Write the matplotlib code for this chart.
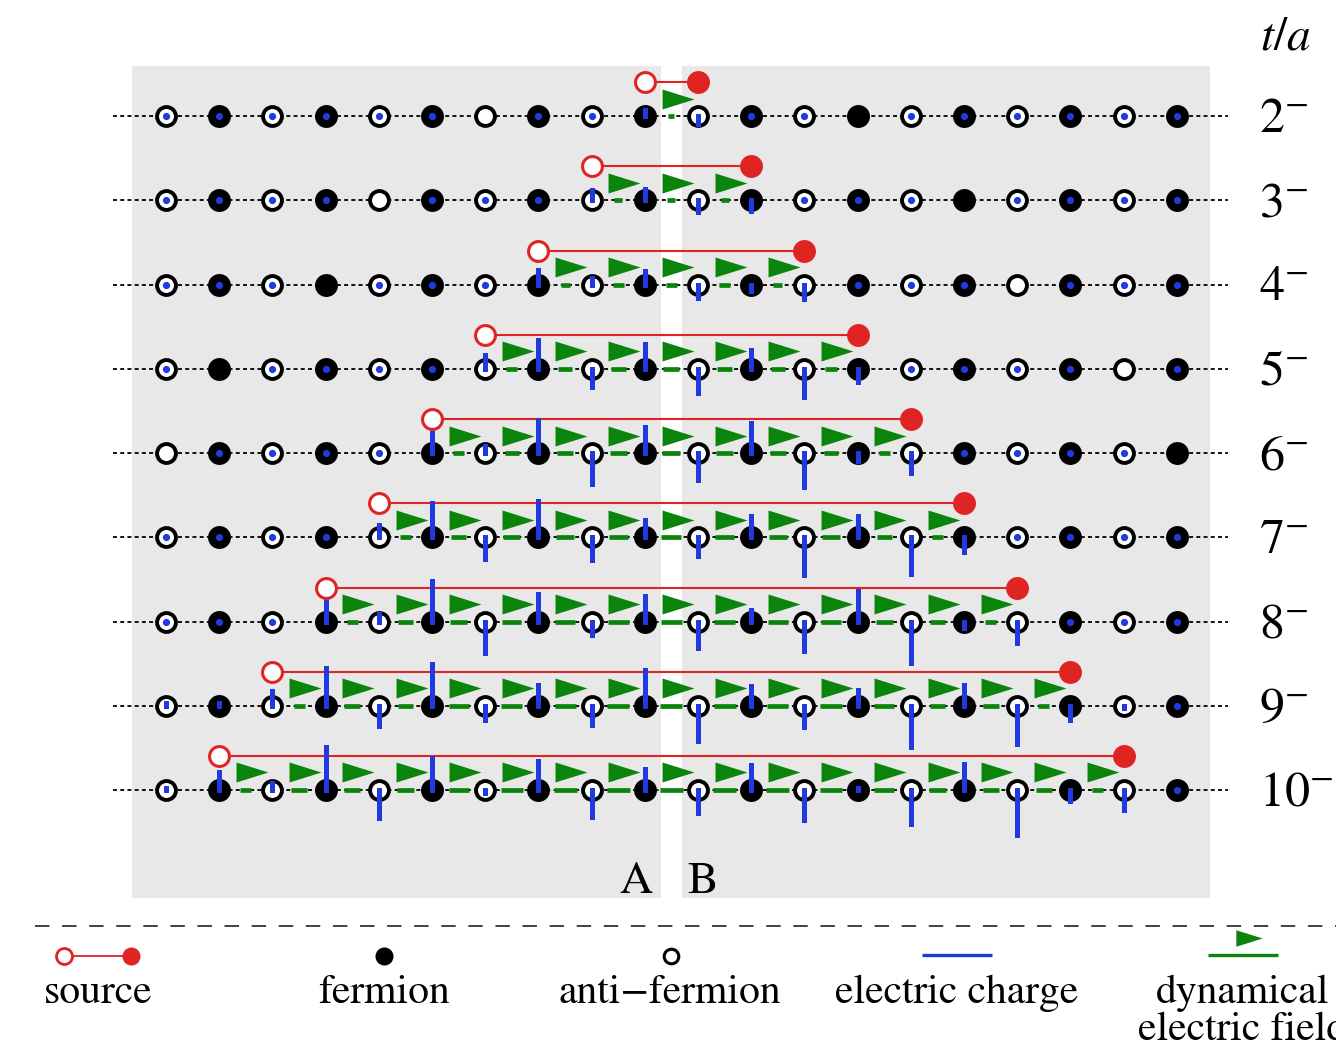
import numpy as np
import matplotlib.pyplot as plt
from matplotlib.path import Path
from matplotlib.patches import Rectangle

plt.rcParams['font.family'] = 'STIXGeneral'
plt.rcParams['mathtext.fontset'] = 'stix'

N = np.nan

# time slices and source positions (site index of anti-source / source)
times = [2, 3, 4, 5, 6, 7, 8, 9, 10]
src_open = [9, 8, 7, 6, 5, 4, 3, 2, 1]
src_full = [10, 11, 12, 13, 14, 15, 16, 17, 18]

# electric charge on the 20 sites (nan = no charge, 0 = tiny)
q2 = [0, 0, 0, 0, 0, 0, N, 0, 0, .09, -.10, 0, 0, N, 0, 0, 0, 0, 0, 0]
q3 = [0, 0, 0, 0, N, 0, 0, 0, .13, .14, -.14, -.13, 0, 0, 0, N, 0, 0, 0, 0]
q4 = [0, 0, 0, N, 0, 0, 0, .17, .09, .16, -.16, -.09, -.17, 0, 0, 0, N, 0, 0, 0]
q5 = [0, N, 0, 0, 0, 0, .16, .31, -.21, .27, -.27, .21, -.31, -.16, 0, 0, 0, 0, N, 0]
q6 = [N, 0, 0, 0, 0, .23, .10, .36, -.33, .28, -.29, .33, -.36, -.10, -.22, 0, 0, 0, 0, N]
q7 = [0, 0, 0, 0, .15, .37, -.24, .39, -.25, .20, -.21, .24, -.40, .24, -.39, -.17, 0, 0, 0, 0]
q8 = [0, 0, 0, .23, .10, .43, -.34, .30, -.16, .28, -.29, .14, -.32, .33, -.44, -.09, -.24, 0, 0, 0]
q9 = [.05, .05, .17, .40, -.23, .44, -.17, .23, -.22, .38, -.38, .22, -.24, .18, -.44, .23, -.41, -.17, -.05, 0]
q10 = [.05, .21, .10, .45, -.30, .35, -.05, .32, -.29, .24, -.25, .28, -.32, .05, -.37, .29, -.47, -.13, -.22, 0]
charges = [q2, q3, q4, q5, q6, q7, q8, q9, q10]

# dynamical electric field on the links between the sources
e2 = [.06]
e3 = [.08, .08, .08]
e4 = [.09, .11, .11, .11, .09]
e5 = [.11, .14, .15, .16, .15, .14, .11]
e6 = [.11, .14, .16, .17, .18, .17, .16, .14, .11]
e7 = [.11, .15, .17, .18, .19, .20, .19, .18, .17, .15, .11]
e8 = [.11, .15, .17, .19, .20, .21, .21, .21, .20, .19, .17, .15, .11]
e9 = [.11, .16, .15, .20, .21, .21, .22, .22, .22, .21, .21, .20, .15, .16, .11]
e10 = [.11, .16, .16, .17, .20, .22, .23, .23, .23, .23, .23, .22, .20, .17, .16, .16, .11]
fields = [e2, e3, e4, e5, e6, e7, e8, e9, e10]

legend_labels = ['source', 'fermion', 'anti\u2212fermion', 'electric charge',
                 'dynamical\nelectric field']

blue = '#1f3ae0'
green = '#0b840b'
red = '#e02424'
panel = '#e8e8e8'

# pixel <-> data helpers (site spacing 53.2 px, row spacing 84.25 px)
DX, DY = 53.2, 84.25
def X(px):
    return (px - 166) / DX
def Y(py):
    return 2 + (py - 116) / DY

fig = plt.figure(figsize=(13.36, 10.48), dpi=100)
ax = fig.add_axes([0, 0, 1, 1])
ax.set_xlim(X(0), X(1336))
ax.set_ylim(Y(1048), Y(0))
ax.axis('off')

# grey panels A | B
ax.add_patch(Rectangle((X(132), Y(66)), X(661) - X(132), Y(898) - Y(66),
                       fc=panel, ec='none', zorder=0))
ax.add_patch(Rectangle((X(682), Y(66)), X(1210) - X(682), Y(898) - Y(66),
                       fc=panel, ec='none', zorder=0))

tri = Path([(-1, -0.625), (1, 0), (-1, 0.625), (-1, -0.625)],
           [Path.MOVETO, Path.LINETO, Path.LINETO, Path.CLOSEPOLY])

sites = np.arange(20)
for k, t in enumerate(times):
    ax.plot([X(113), X(1228)], [t, t], color='k', lw=1.3, dashes=(2.2, 1.8), zorder=1)

    lo, hi = src_open[k], src_full[k]
    for j, e in enumerate(fields[k]):
        xm = lo + j + 0.5
        half = e * 100 / DX / 2
        ax.plot([xm - half, xm + half], [t, t], color=green, lw=3.4,
                solid_capstyle='butt', zorder=2)
    links = np.arange(lo, hi)
    ax.plot(links + 0.615, np.full(len(links), t - 17.5 / DY), ls='none',
            marker=tri, ms=23, mfc=green, mec='none', zorder=3)

    # fermion / anti-fermion sites
    ax.plot(sites[1::2], np.full(10, t), 'o', ms=16.5, mfc='k', mew=0, zorder=3)
    ax.plot(sites[0::2], np.full(10, t), 'o', ms=13.6, mfc='w', mec='k', mew=2.8, zorder=3)

    # electric charge
    for i, q in enumerate(charges[k]):
        if np.isnan(q):
            continue
        if q == 0:
            ax.plot(i, t, 'o', ms=5.2, color=blue, mew=0, zorder=4)
        else:
            L = (abs(q) * 100 - 2.5) / DY
            ax.plot([i, i], [t, t - np.sign(q) * L], color=blue, lw=3.6,
                    solid_capstyle='projecting', zorder=4)

    # static source pair
    ys = t - 34 / DY
    ax.plot([lo, hi], [ys, ys], color=red, lw=1.5, zorder=3.5)
    ax.plot(lo, ys, 'o', ms=14.3, mfc='w', mec=red, mew=2.2, zorder=6)
    ax.plot(hi, ys, 'o', ms=16.5, mfc=red, mew=0, zorder=6)

    ax.text(X(1259), t + 16 / DY, f'${t}^{{-}}$', fontsize=36, ha='left', va='baseline')

ax.text(X(1260), Y(50), r'$t/a$', fontsize=34, ha='left', va='baseline')
ax.text(X(636), Y(893), 'A', fontsize=33, ha='center', va='baseline')
ax.text(X(703), Y(893), 'B', fontsize=33, ha='center', va='baseline')

# legend
ax.plot([X(35), X(1336)], [Y(926), Y(926)], color='#333333', lw=1.3,
        dashes=(8, 7), zorder=1)
yl = Y(956)
ax.plot([X(64), X(131)], [yl, yl], color=red, lw=1.3)
ax.plot(X(64), yl, 'o', ms=11.5, mfc='w', mec=red, mew=2)
ax.plot(X(131), yl, 'o', ms=13, mfc=red, mew=0)
ax.plot(X(384), yl, 'o', ms=13, mfc='k', mew=0)
ax.plot(X(671), yl, 'o', ms=10.5, mfc='w', mec='k', mew=2.2)
ax.plot([X(922), X(992)], [Y(955), Y(955)], color=blue, lw=2.4, solid_capstyle='butt')
ax.plot([X(1208), X(1278)], [Y(955), Y(955)], color=green, lw=2.4, solid_capstyle='butt')
ax.plot(X(1249), Y(938), ls='none', marker=tri, ms=19, mfc=green, mec='none')

label_x = [98, 384, 670, 957, 1243]
for lx, lab in zip(label_x, legend_labels):
    for n, line in enumerate(lab.split('\n')):
        ax.text(X(lx), Y(1003 + 37 * n), line, fontsize=30, ha='center',
                va='baseline')

fig.savefig('out.png', dpi=100)
